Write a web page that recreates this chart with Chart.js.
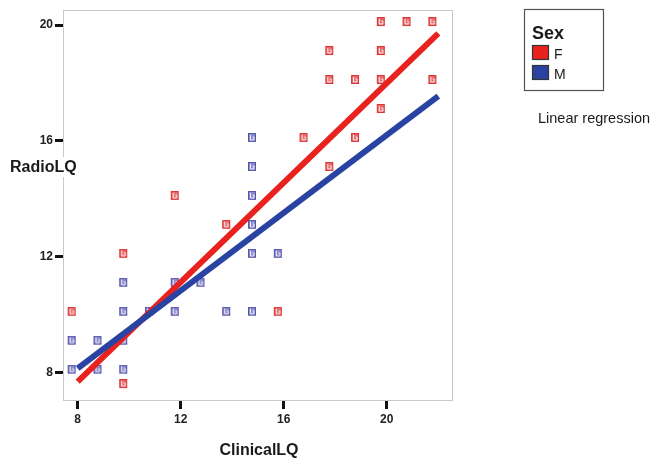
<!DOCTYPE html>
<html>
<head>
<meta charset="utf-8">
<script src="https://cdn.jsdelivr.net/npm/chart.js@4.4.1/dist/chart.umd.min.js"></script>
<style>
  html, body { margin: 0; padding: 0; background: #fff; }
  #wrap { width: 655px; height: 463px; position: relative; }
</style>
</head>
<body>
<div id="wrap"><canvas id="lqChart" width="655" height="463"></canvas></div>
<script>
// axis ticks
var xTicks = [8, 12, 16, 20];
var yTicks = [8, 12, 16, 20];

// Sex = F
var femaleX = [8, 10, 10, 12, 14, 16, 17, 18, 18, 18, 19, 19, 20, 20, 20, 20, 21, 22, 22];
var femaleY = [10, 12, 7.5, 14, 13, 10, 16, 15, 18, 19, 16, 18, 17, 18, 19, 20, 20, 18, 20];

// Sex = M
var maleX = [8, 8, 9, 9, 10, 10, 10, 10, 11, 12, 12, 13, 14, 15, 15, 15, 15, 15, 15, 16];
var maleY = [8, 9, 8, 9, 8, 9, 10, 11, 10, 10, 11, 11, 10, 10, 12, 13, 14, 15, 16, 12];

// linear regression end points
var fitX = [8, 22];
var femaleFitY = [7.69, 19.71];
var maleFitY = [8.15, 17.55];

var red = '#e8231f';
var blue = '#2a43a3';

function pts(xs, ys) {
    return xs.map(function(x, i) { return { x: x, y: ys[i] }; });
}

// little SPSS style marker, its glyph sits up and to the left of the point
function marker(fill, edge) {
    var c = document.createElement('canvas');
    c.width = 24; c.height = 16;
    var g = c.getContext('2d');
    g.fillStyle = fill;
    g.fillRect(2, 0, 8, 9);
    g.strokeStyle = edge;
    g.lineWidth = 1;
    g.strokeRect(2.5, 0.5, 7, 8);
    g.strokeStyle = 'rgba(255,255,255,0.9)';
    g.beginPath();
    g.moveTo(4.5, 2); g.lineTo(4.5, 7); g.lineTo(8, 7);
    g.moveTo(6.5, 4); g.lineTo(8, 4); g.lineTo(8, 7);
    g.stroke();
    return c;
}

var boxPlugin = {
    id: 'spssBits',
    beforeDatasetsDraw: function(chart) {
        var a = chart.chartArea, ctx = chart.ctx;
        ctx.save();
        ctx.strokeStyle = '#c9c9c9';
        ctx.lineWidth = 1;
        ctx.strokeRect(a.left + 0.5, a.top + 0.5, a.right - a.left - 1, a.bottom - a.top - 1);
        ctx.restore();
    },
    afterDraw: function(chart) {
        var ctx = chart.ctx;
        ctx.save();
        // y title sits across the axis on a white patch
        ctx.fillStyle = '#fff';
        ctx.fillRect(5, 157, 87, 20);
        ctx.fillStyle = '#1a1a1a';
        ctx.font = 'bold 16px "Liberation Sans", Arial, sans-serif';
        ctx.textBaseline = 'middle';
        ctx.textAlign = 'left';
        ctx.fillText('RadioLQ', 10, 168);
        ctx.textAlign = 'center';
        ctx.fillText('ClinicalLQ', 259, 451);

        // legend
        ctx.strokeStyle = '#555';
        ctx.lineWidth = 1.2;
        ctx.strokeRect(524.5, 9.5, 79, 81);
        ctx.textAlign = 'left';
        ctx.textBaseline = 'alphabetic';
        ctx.font = 'bold 18px "Liberation Sans", Arial, sans-serif';
        ctx.fillText('Sex', 532, 39);
        ctx.fillStyle = red;
        ctx.fillRect(532, 45, 17, 15);
        ctx.strokeStyle = '#333';
        ctx.strokeRect(532.5, 45.5, 16, 14);
        ctx.fillStyle = blue;
        ctx.fillRect(532, 65, 17, 15);
        ctx.strokeRect(532.5, 65.5, 16, 14);
        ctx.fillStyle = '#1a1a1a';
        ctx.font = '14px "Liberation Sans", Arial, sans-serif';
        ctx.fillText('F', 554, 59);
        ctx.fillText('M', 554, 79);
        ctx.font = '14.5px "Liberation Sans", Arial, sans-serif';
        ctx.fillText('Linear regression', 538, 123);
        ctx.restore();
    }
};

var tickFont = { family: '"Liberation Sans", Arial, sans-serif', size: 12, weight: 'bold' };

var ctx = document.getElementById('lqChart').getContext('2d');
var lqChart = new Chart(ctx, {
    type: 'scatter',
    data: {
        datasets: [
            {
                label: 'M fit',
                type: 'line',
                data: pts(fitX, maleFitY),
                borderColor: blue,
                borderWidth: 6,
                pointRadius: 0,
                fill: false,
                order: 0
            },
            {
                label: 'F fit',
                type: 'line',
                data: pts(fitX, femaleFitY),
                borderColor: red,
                borderWidth: 6,
                pointRadius: 0,
                fill: false,
                order: 1
            },
            {
                label: 'F',
                data: pts(femaleX, femaleY),
                pointStyle: marker('rgba(226,78,78,0.85)', '#d33'),
                pointRadius: 5,
                order: 2
            },
            {
                label: 'M',
                data: pts(maleX, maleY),
                pointStyle: marker('rgba(112,112,192,0.85)', '#55a'),
                pointRadius: 5,
                order: 2
            }
        ]
    },
    options: {
        responsive: false,
        animation: false,
        devicePixelRatio: 1,
        layout: { padding: { top: 10, right: 202, left: 0, bottom: 0 } },
        plugins: {
            legend: { display: false },
            tooltip: { enabled: false }
        },
        scales: {
            x: {
                type: 'linear',
                min: 7.43,
                max: 22.57,
                afterBuildTicks: function(scale) {
                    scale.ticks = xTicks.map(function(v) { return { value: v }; });
                },
                afterFit: function(scale) { scale.height = 62; },
                grid: { drawOnChartArea: false, tickLength: 8, tickWidth: 3, tickColor: '#111' },
                border: { display: false },
                ticks: { font: tickFont, color: '#222', padding: 3, maxRotation: 0 }
            },
            y: {
                type: 'linear',
                min: 7.02,
                max: 20.52,
                afterBuildTicks: function(scale) {
                    scale.ticks = yTicks.map(function(v) { return { value: v }; });
                },
                afterFit: function(scale) { scale.width = 63; },
                grid: { drawOnChartArea: false, tickLength: 8, tickWidth: 3, tickColor: '#111' },
                border: { display: false },
                ticks: { font: tickFont, color: '#222', padding: 2 }
            }
        }
    },
    plugins: [boxPlugin]
});
</script>
</body>
</html>
